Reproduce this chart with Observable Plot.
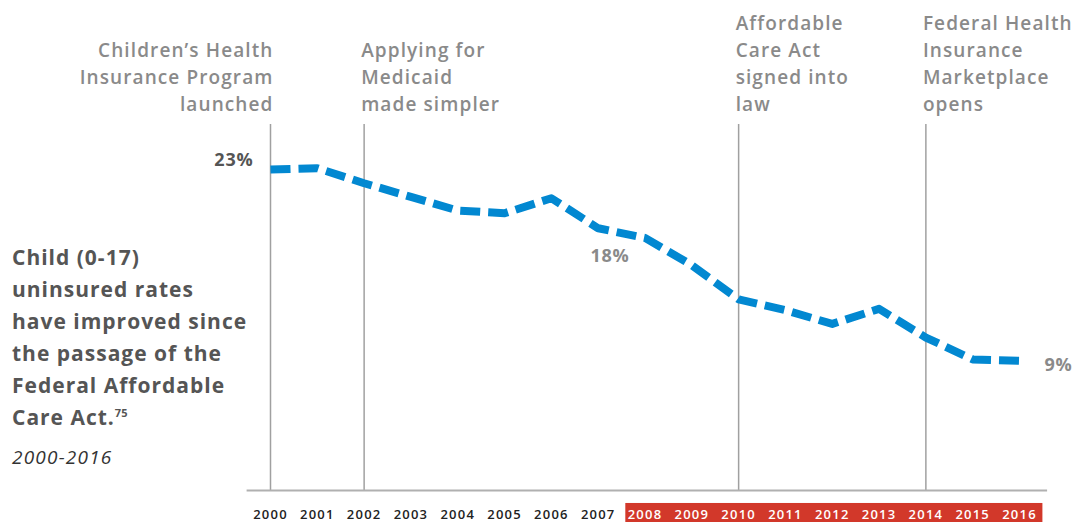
<!DOCTYPE html>
<html><head><meta charset="utf-8">
<script src="https://cdn.jsdelivr.net/npm/d3@7"></script>
<script src="https://cdn.jsdelivr.net/npm/@observablehq/plot@0.6"></script>
<style>
body{margin:0;background:#fff;font-family:"Open Sans",sans-serif;}
#wrap{position:relative;width:1073px;height:522px;overflow:hidden;}
#wrap svg{position:absolute;left:0;top:0;}
#title{position:absolute;left:12px;top:241px;color:#555;font-weight:700;font-size:21px;line-height:32px;letter-spacing:1px;}
#title sup{font-size:11px;vertical-align:8px;line-height:0;letter-spacing:0;}
#sub{position:absolute;left:12px;top:444px;color:#333;font-style:italic;font-size:19px;letter-spacing:1.2px;}
g[aria-description="events"] text{letter-spacing:1.1px;}
g[aria-description="years"] text{letter-spacing:1.2px;}
g[aria-description="values"] text{letter-spacing:0.8px;}
</style></head><body>
<div id="wrap">
<div id="title">Child (0-17)<br>uninsured rates<br>have improved since<br>the passage of the<br>Federal Affordable<br>Care Act.<sup>75</sup></div>
<div id="sub">2000-2016</div>
</div>
<script>
const years = [2000,2001,2002,2003,2004,2005,2006,2007,2008,2009,2010,2011,2012,2013,2014,2015,2016];
const rates = [23.0,23.1,22.0,21.0,20.0,19.8,20.9,18.7,18.0,16.0,13.5,12.7,11.7,12.8,10.7,9.1,9.0];
const eventYears = [2000,2002,2010,2014];
const eventLabels = [
  "Children\u2019s Health\nInsurance Program\nlaunched",
  "Applying for\nMedicaid\nmade simpler",
  "Affordable\nCare Act\nsigned into\nlaw",
  "Federal Health\nInsurance\nMarketplace\nopens"
];
const labelYears = [2000, 2008, 2016];
const labelTexts = ["23%", "18%", "9%"];
const highlightStart = 2008;

const data = years.map((year, i) => ({year, rate: rates[i]}));
const events = eventYears.map((year, i) => ({year, label: eventLabels[i]}));
const valueLabels = labelYears.map((year, i) => ({year, rate: rates[years.indexOf(year)], text: labelTexts[i]}));

const yMin = -0.5, yMax = 26.3;
const grayText = "#8a8a8a";

const chart = Plot.plot({
  width: 1073, height: 522,
  marginTop: 124, marginBottom: 32, marginLeft: 270, marginRight: 54,
  x: {domain: [2000, 2016], axis: null},
  y: {domain: [yMin, yMax], axis: null},
  style: {fontFamily: '"Open Sans", sans-serif', background: "transparent", overflow: "visible"},
  marks: [
    Plot.rect([0], {x1: () => highlightStart - 0.41, x2: () => 2016.5, y1: () => -1.45, y2: () => -3.0, fill: "#d2382a"}),
    Plot.ruleX(eventYears, {stroke: "#a0a0a0", strokeWidth: 1.5}),
    Plot.ruleY([yMin], {x1: () => 1999.5, x2: () => 2016.6, stroke: "#b0b0b0", strokeWidth: 2}),
    Plot.text(years, {x: d => d, frameAnchor: "bottom", dy: 28, text: d => String(d), ariaDescription: "years",
      fill: d => d >= highlightStart ? "white" : "#222", fontSize: 13, fontWeight: 600}),
    Plot.text(events.filter(d => d.year === 2000), {x: "year", text: "label", frameAnchor: "top", lineAnchor: "bottom",
      textAnchor: "end", dx: 3, dy: -14, fill: grayText, fontSize: 19, fontWeight: 600, lineHeight: 1.42, ariaDescription: "events"}),
    Plot.text(events.filter(d => d.year !== 2000), {x: "year", text: "label", frameAnchor: "top", lineAnchor: "bottom",
      textAnchor: "start", dx: -3, dy: -14, fill: grayText, fontSize: 19, fontWeight: 600, lineHeight: 1.42, ariaDescription: "events"}),
    Plot.line(data, {x: "year", y: "rate", stroke: "#0288d1", strokeWidth: 8, strokeDasharray: "20,8",
      strokeLinejoin: "round", strokeLinecap: "butt"}),
    Plot.text(valueLabels.filter(d => d.year === 2000), {x: "year", y: "rate", text: "text", textAnchor: "end", dx: -17, dy: -9,
      fill: "#555", fontSize: 18, fontWeight: 700, ariaDescription: "values"}),
    Plot.text(valueLabels.filter(d => d.year === 2008), {x: "year", y: "rate", text: "text", dx: -35, dy: 18,
      fill: grayText, fontSize: 18, fontWeight: 700, ariaDescription: "values"}),
    Plot.text(valueLabels.filter(d => d.year === 2016), {x: "year", y: "rate", text: "text", textAnchor: "start", dx: 25, dy: 4,
      fill: grayText, fontSize: 18, fontWeight: 700, ariaDescription: "values"})
  ]
});
document.getElementById("wrap").prepend(chart);
</script>
</body></html>
